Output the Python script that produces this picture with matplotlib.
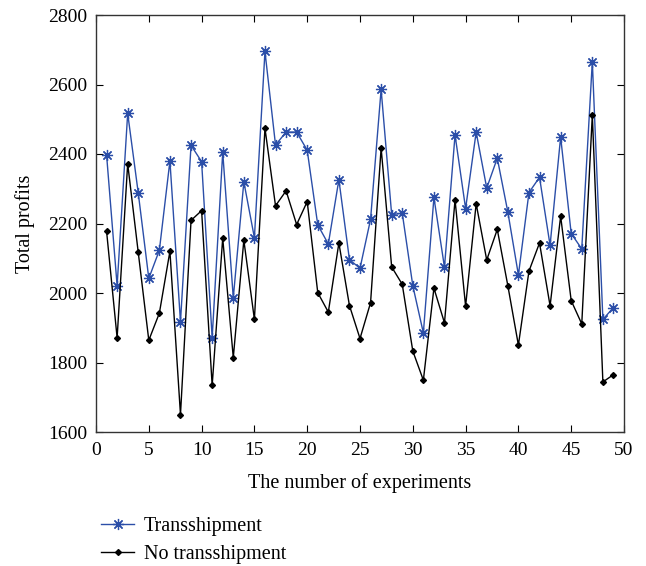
import matplotlib
matplotlib.use('Agg')
import matplotlib.pyplot as plt

experiments = list(range(1, 50))
transshipment = [2398, 2021, 2517, 2288, 2042, 2123, 2380, 1917, 2425, 2378,
                 1871, 2405, 1986, 2320, 2159, 2695, 2426, 2463, 2463, 2411,
                 2196, 2141, 2326, 2096, 2071, 2212, 2586, 2225, 2230, 2021,
                 1885, 2275, 2074, 2455, 2243, 2463, 2302, 2388, 2233, 2052,
                 2289, 2333, 2137, 2449, 2171, 2127, 2666, 1924, 1958]
no_transshipment = [2178, 1871, 2372, 2117, 1864, 1942, 2120, 1650, 2209, 2237,
                    1734, 2158, 1814, 2152, 1924, 2474, 2251, 2294, 2197, 2263,
                    2001, 1945, 2144, 1964, 1869, 1972, 2417, 2075, 2025, 1833,
                    1749, 2014, 1914, 2268, 1962, 2257, 2095, 2183, 2021, 1850,
                    2063, 2144, 1963, 2221, 1978, 1911, 2512, 1744, 1765]

x_ticks = [0, 5, 10, 15, 20, 25, 30, 35, 40, 45, 50]
y_ticks = [1600, 1800, 2000, 2200, 2400, 2600, 2800]

plt.rcParams['font.family'] = ['Liberation Serif', 'DejaVu Serif']

fig = plt.figure(figsize=(6.46, 5.66), dpi=100)
ax = fig.add_axes([96 / 646, 1 - 432 / 566, 528 / 646, 417 / 566])

ax.plot(experiments, transshipment, color='#2b4ea8', linewidth=1.0,
        marker=(8, 2, 0), markersize=8, markeredgewidth=0.9,
        label='Transshipment')
ax.plot(experiments, no_transshipment, color='black', linewidth=1.0,
        marker='D', markersize=3, label='No transshipment')

ax.set_xlim(0, 50)
ax.set_ylim(1600, 2800)
ax.set_xticks(x_ticks)
ax.set_yticks(y_ticks)
ax.tick_params(direction='in', top=True, right=True, labelsize=14, length=5)
ax.tick_params(axis='x', pad=7)
ax.tick_params(axis='y', pad=6)
for s in ax.spines.values():
    s.set_linewidth(1.0)
    s.set_color('#333333')

ax.set_xlabel('The number of experiments', fontsize=14.5, labelpad=10)
ax.set_ylabel('Total profits', fontsize=14.5, labelpad=10)

ax.legend(loc='upper left', bbox_to_anchor=(-0.005, -0.185), frameon=False,
          fontsize=14.5, handlelength=1.6, handletextpad=0.5,
          labelspacing=0.45, borderaxespad=0)

fig.savefig('out.png', dpi=100)
